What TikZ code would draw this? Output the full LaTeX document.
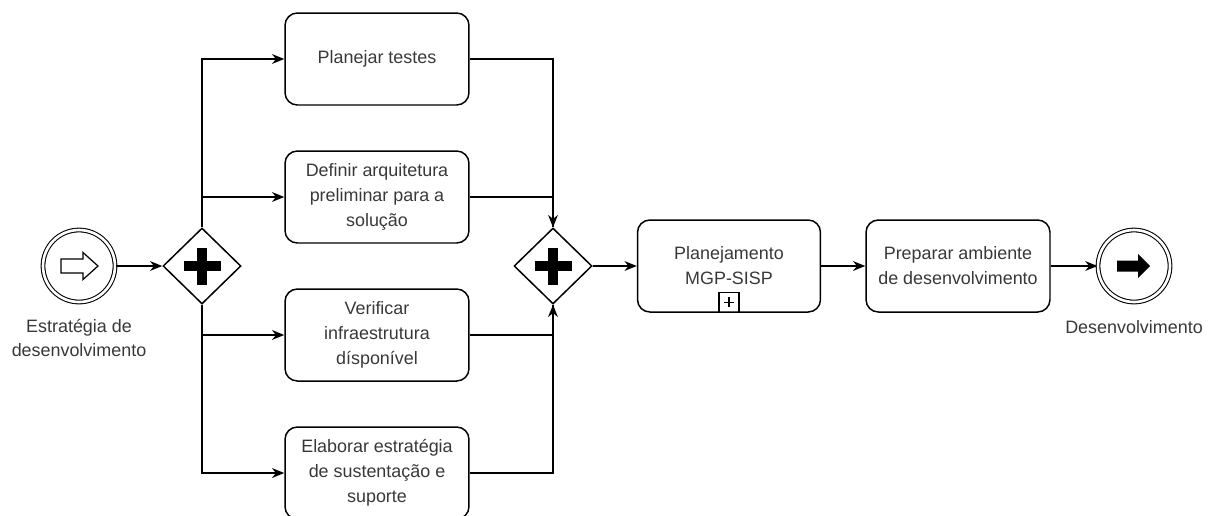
\documentclass[tikz,border=0pt]{standalone}
\usepackage{fontspec}
\setmainfont{Liberation Sans}
\usepackage{xcolor}
\usetikzlibrary{shapes.geometric,arrows.meta,positioning}

\begin{document}
\begin{tikzpicture}[x=0.02cm,y=-0.02cm,
  font=\fontsize{10.2}{14.2}\selectfont,
  task/.style={draw,line width=0.85pt,rounded corners=7pt,minimum width=3.68cm,
    minimum height=1.84cm,align=center,text=black!78},
  gate/.style={draw,diamond,line width=0.85pt,minimum width=1.56cm,minimum height=1.52cm,
    inner sep=0pt,fill=white},
  event/.style={draw,circle,line width=0.6pt,double,double distance=1.5pt,
    minimum size=1.44cm,inner sep=0pt},
  lbl/.style={align=center,text=black!78,inner sep=0pt},
  flow/.style={line width=0.75pt,-{Stealth[length=7pt,width=5.6pt]}},
  line/.style={line width=0.75pt}]
  \useasboundingbox (0,0) rectangle (1209,515);
  % Start event
  \node[event] (start) at (79,266) {};
  \draw[line width=0.7pt,fill=white] (start.center)
    +(-18,-7) -- +(4,-7) -- +(4,-13.5) -- +(19,0) -- +(4,13.5) -- +(4,7) -- +(-18,7) -- cycle;
  \node[lbl] (startlbl) at (79,338) {Estratégia de\\desenvolvimento};
  % Split gateway
  \node[gate] (g1) at (202,266) {};
  \draw[line width=5.7pt] (g1.center) +(-18.5,0) -- +(18.5,0);
  \draw[line width=5.7pt] (g1.center) +(0,-18.5) -- +(0,18.5);
  % Parallel tasks
  \node[task] (t1) at (377,59) {Planejar testes};
  \node[task] (t2) at (377,197) {Definir arquitetura\\preliminar para a\\solução};
  \node[task] (t3) at (377,335) {Verificar\\infraestrutura\\dísponível};
  \node[task] (t4) at (377,473) {Elaborar estratégia\\de sustentação e\\suporte};
  % Join gateway
  \node[gate] (g2) at (553,266) {};
  \draw[line width=5.7pt] (g2.center) +(-18.5,0) -- +(18.5,0);
  \draw[line width=5.7pt] (g2.center) +(0,-18.5) -- +(0,18.5);
  % Subprocess
  \node[task,minimum width=3.66cm] (sub) at (729,266) {Planejamento\\MGP-SISP};
  \node[draw,line width=0.7pt,minimum size=0.4cm,inner sep=0pt,anchor=south] (submark) at (sub.south) {};
  \draw[line width=0.6pt] (submark.center) +(-5,0) -- +(5,0);
  \draw[line width=0.6pt] (submark.center) +(0,-5) -- +(0,5);
  % Last task
  \node[task] (prep) at (958,266) {Preparar ambiente\\de desenvolvimento};
  % End event
  \node[event] (stop) at (1134,266) {};
  \fill (stop.center)
    +(-17,-5.5) -- +(4,-5.5) -- +(4,-12) -- +(16,0) -- +(4,12) -- +(4,5.5) -- +(-17,5.5) -- cycle;
  \node[lbl] (stoplbl) at (1134,327) {Desenvolvimento};
  % Flows
  \draw[flow] (start) -- (g1);
  \draw[flow] (g1.north) |- (t1);
  \draw[flow] (g1.north) |- (t2);
  \draw[flow] (g1.south) |- (t3);
  \draw[flow] (g1.south) |- (t4);
  \draw[flow] (t1) -| (g2.north);
  \draw[line] (t2) -| (g2.north);
  \draw[flow] (t3) -| (g2.south);
  \draw[line] (t4) -| (g2.south);
  \draw[flow] (g2) -- (sub);
  \draw[flow] (sub) -- (prep);
  \draw[flow] (prep) -- (stop);
\end{tikzpicture}
\end{document}
